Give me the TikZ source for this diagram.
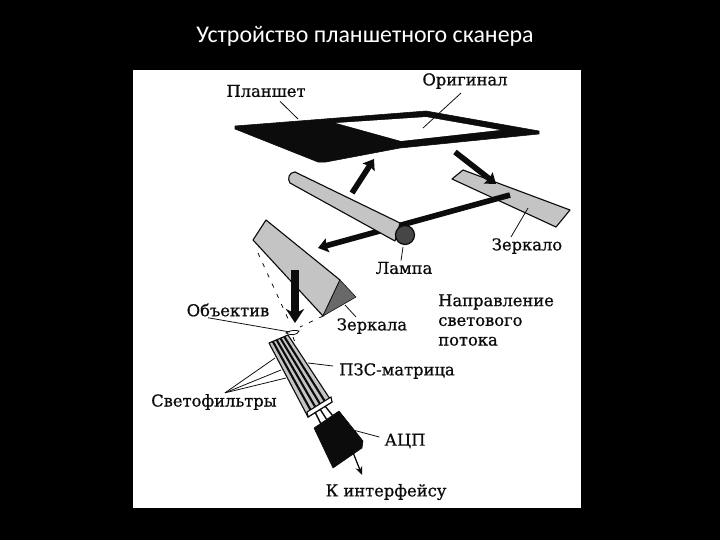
\documentclass[tikz,border=0pt]{standalone}
\usepackage{fontspec}
\setmainfont[FakeBold=0.8]{DejaVu Serif}
\newfontfamily\titlefont{Carlito}
\usepackage{tikz}
\usetikzlibrary{arrows.meta, positioning, calc}
\definecolor{cFace}{RGB}{196,196,196}
\definecolor{cFacet}{RGB}{105,105,105}
\definecolor{cLampEnd}{RGB}{70,70,70}
\definecolor{cInk}{RGB}{12,12,12}
\tikzset{
  %% printed labels
  lbl/.style={font=\fontsize{11.6}{14}\selectfont, text=cInk, inner sep=0pt, align=left},
  %% scanner parts
  part/.style={fill=cFace, draw=cInk, line width=0.8pt, line join=round},
  solid part/.style={fill=cInk, draw=cInk, line width=0.4pt, line join=round},
  %% light flow arrows
  flow/.style={-{Stealth[length=7pt, width=10pt, inset=1pt]}, draw=cInk, line width=4pt},
  %% thin leader lines
  leader/.style={draw=cInk, line width=0.55pt},
  raydash/.style={draw=cInk, line width=0.55pt, dash pattern=on 3pt off 5pt},
}
\begin{document}
\begin{tikzpicture}[x=0.025cm, y=-0.025cm]

%% ============================================================
%%  SLIDE AND TITLE (coordinates in pixels of the slide)
%% ============================================================
\fill[black] (0,0) rectangle (720,540);
\fill[white] (133,70) rectangle (581,508);
\node[font=\titlefont\fontsize{17}{20}\selectfont, text=white, inner sep=0pt] (title) at (365,36)
  {Устройство планшетного сканера};

%% ----- Tablet and original -----
\fill[solid part] (235,129) -- (235,126) -- (426,111) -- (539,131) -- (539,134)
  -- (400,148) -- (326,162) -- (318,162) -- cycle;
\fill[white] (336,123) -- (426,117) -- (500,130) -- (401,141) -- cycle;

%% ----- Right mirror -----
\draw[part] (463,170) -- (570,210) -- (556,227) -- (452,179) -- cycle;

%% ----- Light beam behind the lamp -----
\coordinate (beamStart) at (510,195);
\coordinate (beamEnd) at (318,248);
\draw[flow] (beamStart) -- (beamEnd);

%% ----- Lamp -----
\draw[part] (295,172) .. controls (289,172) and (287,179) .. (290,183)
  -- (395,241) -- (400,223) -- cycle;
\node[circle, fill=cLampEnd, draw=cInk, line width=0.9pt, minimum size=13.5pt, inner sep=0pt] (lampEnd) at (405,235) {};

%% ----- Flow arrows -----
\coordinate (upStart) at (352,193);
\coordinate (upEnd) at (374,159);
\draw[flow] (upStart) -- (upEnd);
\coordinate (downStart) at (455,152);
\coordinate (downEnd) at (496,184);
\draw[flow] (downStart) -- (downEnd);

%% ----- Double mirror -----
\draw[part] (266,220) -- (253,240) -- (323,316) -- (340,280) -- cycle;
\draw[solid part, fill=cFacet] (340,280) -- (356,297) -- (323,316) -- cycle;
\coordinate (dropStart) at (295,270);
\coordinate (dropEnd) at (295,323);
\draw[flow, line width=5pt, -{Stealth[length=10pt, width=13pt]}] (dropStart) -- (dropEnd);

%% ----- Rays through the lens -----
\draw[raydash] (258,253) -- (290,323);
\draw[raydash] (323,316) -- (300,327);
\draw[raydash] (293,337) -- (296,345);

%% ----- Lens -----
\draw[leader, fill=white] (286,333) .. controls (290,330) and (296,330) .. (299,331)
  .. controls (298,335) and (290,336) .. (286,333) -- cycle;

%% ----- CCD with filters -----
\coordinate (ccdA) at (269,343);
\coordinate (ccdB) at (288,335);
\coordinate (ccdC) at (332,402);
\coordinate (ccdD) at (308,417);
\draw[part, fill=cFace] (ccdA) -- (ccdB) -- (ccdC) -- (ccdD) -- cycle;
\foreach \tt in {0.2, 0.4, 0.6, 0.8} {
  \draw[draw=cInk, line width=1.5pt] ($(ccdA)!\tt!(ccdB)$) -- ($(ccdD)!\tt!(ccdC)$);
}
\draw[draw=cInk, fill=white, line width=0.8pt] (307,412) -- (331,397) -- (332,402) -- (308,417) -- cycle;

%% ----- Pins -----
\draw[draw=cInk, line width=1pt] (315,412) -- (321,424) (320,409) -- (327,420) (325,406) -- (333,416);

%% ----- ADC -----
\draw[solid part] (314,428) -- (339,411) -- (363,441) -- (362,448) -- (333,468) -- cycle;
\coordinate (outStart) at (352,450);
\coordinate (outEnd) at (362,475);
\draw[leader, line width=0.9pt, -{Stealth[length=6pt, width=5pt]}] (outStart) -- (outEnd);

%% ============================================================
%%  LABELS
%% ============================================================
\node[lbl] (lblTablet) at (266,91) {Планшет};
\node[lbl] (lblOriginal) at (465,81) {Оригинал};
\node[lbl] (lblMirror) at (527,246) {Зеркало};
\node[lbl] (lblLamp) at (404,268) {Лампа};
\node[lbl] (lblLens) at (228,310) {Объектив};
\node[lbl] (lblMirrors) at (372,326) {Зеркала};
\node[lbl, anchor=west] (lblFlow) at (438,320) {Направление\\[0pt]светового\\[0pt]потока};
\node[lbl] (lblCCD) at (397,371) {ПЗС-матрица};
\node[lbl] (lblFilters) at (214,402) {Светофильтры};
\node[lbl] (lblADC) at (405,441) {АЦП};
\node[lbl] (lblOut) at (386,492) {К интерфейсу};

%% ----- Leaders -----
\coordinate (tabletEnd) at (298,119);
\coordinate (originalEnd) at (423,128);
\coordinate (mirrorEnd) at (528,208);
\coordinate (lampEndPt) at (403,247);
\coordinate (lensEnd) at (290,332);
\coordinate (mirrorsEnd) at (345,305);
\coordinate (ccdEnd) at (308,363);
\coordinate (adcEnd) at (353,430);
\draw[leader] ($(lblTablet.south)+(14,4)$) -- (tabletEnd);
\draw[leader] (lblOriginal.south) ++(-4,4) -- (originalEnd);
\draw[leader] (lblMirror.north) ++(-16,-1) -- (mirrorEnd);
\draw[leader] (lblLamp.north) ++(-3,-1) -- (lampEndPt);
\draw[leader] (lblLens.south) ++(-20,1) -- (lensEnd);
\draw[leader] (lblMirrors.north) ++(-16,-1) -- (mirrorsEnd);
\draw[leader] (lblCCD.west) ++(-6,-5) -- (ccdEnd);
\draw[leader] (lblADC.west) ++(-5,-4) -- (adcEnd);
\foreach \fx/\fy in {275/358, 281/370, 286/378} {
  \draw[leader] ($(lblFilters.north)+(11,-1)$) -- (\fx,\fy);
}

\end{tikzpicture}
\end{document}
